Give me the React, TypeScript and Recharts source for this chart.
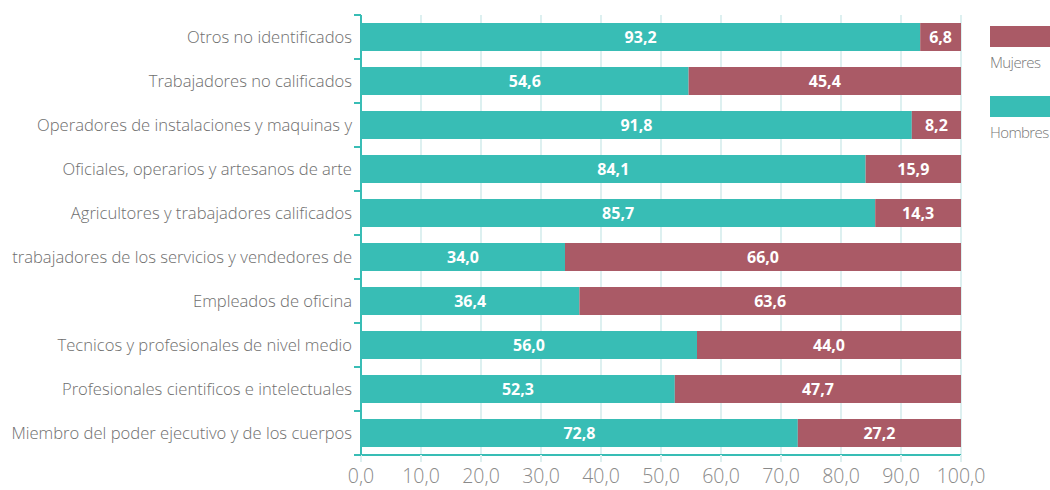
import { BarChart, Bar, XAxis, YAxis, CartesianGrid, LabelList, Legend } from 'recharts';

const categories = [
    'Otros no identificados',
    'Trabajadores no calificados',
    'Operadores de instalaciones y maquinas y',
    'Oficiales, operarios y artesanos de arte',
    'Agricultores y trabajadores calificados',
    'trabajadores de los servicios y vendedores de',
    'Empleados de oficina',
    'Tecnicos y profesionales de nivel medio',
    'Profesionales cientificos e intelectuales',
    'Miembro del poder ejecutivo y de los cuerpos',
];
const hombres = [93.2, 54.6, 91.8, 84.1, 85.7, 34.0, 36.4, 56.0, 52.3, 72.8];
const mujeres = [6.8, 45.4, 8.2, 15.9, 14.3, 66.0, 63.6, 44.0, 47.7, 27.2];
const xTicks = [0, 10, 20, 30, 40, 50, 60, 70, 80, 90, 100];

const data = categories.map((name, i) => ({ name, hombres: hombres[i], mujeres: mujeres[i] }));

const TEAL = '#38BDB5';
const MAROON = '#AA5A66';
const GRID = '#DDF0F0';
const FONT = '"Open Sans", sans-serif';

const WIDTH = 1050;
const HEIGHT = 490;
const TOP = 15;
const PLOT_BOTTOM = 455;
const HALF_BAND = (PLOT_BOTTOM - TOP) / categories.length / 2;

const fmt = (v: number) => v.toFixed(1).replace('.', ',');

function CategoryTick(props: any) {
    const { x, y, payload, index } = props;
    return (
        <g>
            <text x={x} y={y} dy={6} textAnchor="end" fill="#6e6e6e" fontSize={16.6} fontFamily={FONT} fontWeight={300}>
                {payload.value}
            </text>
            <line x1={x + 2} x2={x + 9} y1={y - HALF_BAND} y2={y - HALF_BAND} stroke={TEAL} strokeWidth={2} />
            {index === categories.length - 1 && (
                <line x1={x + 2} x2={x + 9} y1={y + HALF_BAND} y2={y + HALF_BAND} stroke={TEAL} strokeWidth={2} />
            )}
        </g>
    );
}

function LegendBox(props: any) {
    const items = [...(props.payload || [])].reverse();
    return (
        <div style={{ fontFamily: FONT }}>
            {items.map((item: any) => (
                <div key={item.value} style={{ marginBottom: 24 }}>
                    <div style={{ width: 60, height: 21, background: item.color }} />
                    <div style={{ fontSize: 15, color: '#777', fontWeight: 300, marginTop: 5, letterSpacing: -0.6 }}>
                        {item.value}
                    </div>
                </div>
            ))}
        </div>
    );
}

export default function App() {
    return (
        <div style={{ position: 'absolute', left: 0, top: 0, width: WIDTH, height: HEIGHT, background: '#fff' }}>
            <BarChart
                width={WIDTH}
                height={HEIGHT}
                data={data}
                layout="vertical"
                margin={{ top: TOP, right: WIDTH - 961, left: 0, bottom: 0 }}
                barSize={28}
            >
                <CartesianGrid vertical horizontal={false} stroke={GRID} strokeWidth={2} />
                <XAxis
                    type="number"
                    domain={[0, 100]}
                    ticks={xTicks}
                    tickFormatter={fmt}
                    height={HEIGHT - PLOT_BOTTOM}
                    axisLine={{ stroke: TEAL, strokeWidth: 2 }}
                    tickLine={{ stroke: GRID, strokeWidth: 2 }}
                    tickSize={7}
                    tickMargin={7}
                    tick={{ fill: '#8a8a8a', fontSize: 19.5, fontFamily: FONT, fontWeight: 300 }}
                    interval={0}
                />
                <YAxis
                    type="category"
                    dataKey="name"
                    width={361}
                    axisLine={{ stroke: TEAL, strokeWidth: 2 }}
                    tickLine={false}
                    tickSize={0}
                    tickMargin={9}
                    tick={<CategoryTick />}
                    interval={0}
                />
                <Legend
                    layout="vertical"
                    align="center"
                    verticalAlign="middle"
                    content={<LegendBox />}
                    wrapperStyle={{ position: 'absolute', left: 990, top: 26, width: 60, height: 150 }}
                />
                <Bar dataKey="hombres" name="Hombres" stackId="a" fill={TEAL} isAnimationActive={false}>
                    <LabelList
                        dataKey="hombres"
                        position="center"
                        formatter={(v: any) => fmt(Number(v))}
                        style={{ fill: '#fff', fontSize: 16, fontWeight: 700, fontFamily: FONT }}
                    />
                </Bar>
                <Bar dataKey="mujeres" name="Mujeres" stackId="a" fill={MAROON} isAnimationActive={false}>
                    <LabelList
                        dataKey="mujeres"
                        position="center"
                        formatter={(v: any) => fmt(Number(v))}
                        style={{ fill: '#fff', fontSize: 16, fontWeight: 700, fontFamily: FONT }}
                    />
                </Bar>
            </BarChart>
        </div>
    );
}
